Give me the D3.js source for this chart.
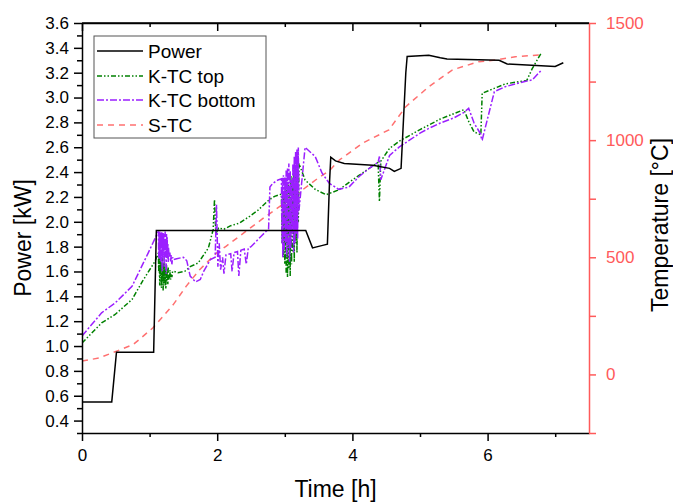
<!DOCTYPE html>
<html><head><meta charset="utf-8">
<script src="https://cdn.jsdelivr.net/npm/d3@7"></script>
<style>body{margin:0;background:#fff}svg{font-family:"Liberation Sans",Arial,sans-serif}</style>
</head><body><svg id="c" width="673" height="502"></svg>
<script>
// ---- data ----
const seriesNames = ["Power", "K-TC top", "K-TC bottom", "S-TC"];
const xTicks = [0, 2, 4, 6];
const xMinor = [1, 3, 5, 7];
const leftTicks = [0.4,0.6,0.8,1.0,1.2,1.4,1.6,1.8,2.0,2.2,2.4,2.6,2.8,3.0,3.2,3.4,3.6];
const leftMinor = [0.3,0.5,0.7,0.9,1.1,1.3,1.5,1.7,1.9,2.1,2.3,2.5,2.7,2.9,3.1,3.3,3.5];
const rightTicks = [0, 500, 1000, 1500];
const rightMinor = [-250, 250, 750, 1250];
// Power [kW] vs time [h]
const powerT = [0,0.44,0.51,1.06,1.1,3.31,3.41,3.56,3.63,3.66,3.68,3.75,3.88,4.3,4.55,4.62,4.72,4.79,4.81,5.13,5.3,5.4,6.17,6.29,7.0,7.12];
const powerV = [0.55,0.55,0.95,0.95,1.93,1.93,1.79,1.81,1.82,2.3,2.52,2.49,2.47,2.455,2.43,2.405,2.43,3.2,3.33,3.34,3.32,3.31,3.3,3.27,3.25,3.28];
// K-TC top [°C]
const topT = [0,0.29,0.49,0.74,0.9,1.08,1.13,1.135,1.14,1.15,1.155,1.16,1.17,1.175,1.18,1.19,1.195,1.2,1.21,1.215,1.22,1.23,1.235,1.24,1.25,1.255,1.26,1.27,1.275,1.28,1.29,1.295,1.3,1.31,1.32,1.33,1.34,1.36,1.42,1.52,1.6,1.72,1.87,1.94,1.96,1.98,2.02,2.1,2.2,2.33,2.48,2.6,2.77,2.85,2.95,2.96,2.97,2.98,2.99,3.0,3.01,3.02,3.03,3.04,3.05,3.06,3.07,3.08,3.09,3.1,3.11,3.12,3.13,3.14,3.15,3.16,3.17,3.18,3.19,3.2,3.21,3.3,3.45,3.61,3.8,4.0,4.2,4.38,4.4,4.42,4.55,4.69,5.0,5.3,5.65,5.72,5.8,5.9,5.92,6.26,6.58,6.66,6.8];
const topV = [134,220,256,320,400,483,518,440,510,380,500,420,490,370,470,400,510,358,460,390,480,380,450,365,470,400,440,385,460,400,430,410,445,405,430,415,440,440,434,440,460,476,540,618,746,600,625,620,635,646,675,700,746,760,770,560,780,500,760,470,800,430,790,415,820,450,780,420,850,470,820,520,860,480,880,560,860,520,874,650,900,830,790,767,788,830,870,905,738,910,965,995,1045,1090,1130,1080,1035,1023,1200,1240,1255,1305,1375];
// K-TC bottom [°C]
const botT = [0,0.29,0.49,0.74,0.98,1.13,1.135,1.14,1.145,1.15,1.155,1.16,1.165,1.17,1.175,1.18,1.185,1.19,1.195,1.2,1.205,1.21,1.215,1.22,1.225,1.23,1.235,1.24,1.245,1.25,1.255,1.26,1.265,1.27,1.275,1.28,1.29,1.3,1.31,1.32,1.33,1.34,1.35,1.4,1.5,1.55,1.6,1.68,1.75,1.8,1.9,1.97,1.99,2.01,2.03,2.05,2.08,2.1,2.13,2.2,2.22,2.25,2.3,2.32,2.35,2.4,2.43,2.46,2.5,2.55,2.6,2.65,2.72,2.76,2.78,2.82,2.9,2.95,2.96,2.965,2.97,2.98,2.99,3.0,3.01,3.02,3.03,3.04,3.05,3.06,3.07,3.08,3.09,3.1,3.11,3.12,3.13,3.14,3.15,3.16,3.17,3.18,3.19,3.2,3.21,3.3,3.45,3.55,3.66,3.8,3.95,4.1,4.25,4.38,4.4,4.42,4.55,4.69,4.85,5.0,5.13,5.3,5.5,5.65,5.72,5.8,5.9,5.91,5.92,6.1,6.26,6.45,6.58,6.66,6.8];
const botV = [164,263,305,376,519,611,500,600,490,610,520,590,480,605,540,610,440,580,500,605,530,600,460,575,500,610,520,560,430,600,510,585,495,560,480,540,500,520,480,510,470,500,490,494,500,485,420,395,405,440,490,500,724,460,560,447,500,430,510,515,440,520,525,420,530,535,470,540,545,560,575,590,610,620,800,815,830,835,560,840,500,850,520,840,560,870,500,880,540,900,480,870,540,830,600,900,520,930,560,950,600,960,580,969,700,969,930,860,815,790,800,845,880,905,930,831,935,970,1001,1030,1050,1073,1095,1118,1136,1073,1025,1001,1001,1207,1228,1243,1252,1257,1300,1371];
// S-TC [°C]
const sT = [0,0.25,0.51,0.76,1.05,1.35,1.54,1.74,1.99,2.13,2.72,3.07,3.46,3.66,3.81,4.15,4.54,4.79,5.13,5.48,5.87,6.12,6.41,6.8];
const sV = [57,70,99,128,199,298,376,447,518,547,675,746,831,870,916,987,1044,1143,1228,1300,1335,1342,1356,1364];

// ---- layout ----
const svg = d3.select("#c");
const L = 82, R = 589, T = 23, B = 433;
const x = d3.scaleLinear().domain([0, 7.5]).range([L, R]);
const yL = d3.scaleLinear().domain([0.3, 3.6]).range([B, T]);
const yR = d3.scaleLinear().domain([-250, 1500]).range([B, T]);
const red = "#ff5a5a";

svg.append("defs").append("clipPath").attr("id","clip")
  .append("rect").attr("x",L).attr("y",T).attr("width",R-L).attr("height",B-T);

const g = svg.append("g").attr("clip-path","url(#clip)");
const zip = (a,b)=>a.map((v,i)=>[v,b[i]]);
const lineL = d3.line().x(d=>x(d[0])).y(d=>yL(d[1]));
const lineR = d3.line().x(d=>x(d[0])).y(d=>yR(d[1]));

const styles = [
  {color:"#000000", dash:null},
  {color:"#008000", dash:"5,2,1.5,2,1.5,2"},
  {color:"#9b1fff", dash:"7,2,2,2"},
  {color:"#ff7070", dash:"6,5"}
];

g.append("path").datum(zip(sT,sV)).attr("d",lineR).attr("fill","none")
  .attr("stroke",styles[3].color).attr("stroke-width",1.5).attr("stroke-dasharray",styles[3].dash);
g.append("path").datum(zip(topT,topV)).attr("d",lineR).attr("fill","none")
  .attr("stroke",styles[1].color).attr("stroke-width",1.5).attr("stroke-dasharray",styles[1].dash);
g.append("path").datum(zip(botT,botV)).attr("d",lineR).attr("fill","none")
  .attr("stroke",styles[2].color).attr("stroke-width",1.5).attr("stroke-dasharray",styles[2].dash);
g.append("path").datum(zip(powerT,powerV)).attr("d",lineL).attr("fill","none")
  .attr("stroke","#000").attr("stroke-width",1.5);

// ---- axes ----
function styleAxis(sel, color, fs){
  sel.select(".domain").attr("stroke",color).attr("stroke-width",1.5);
  sel.selectAll(".tick line").attr("stroke",color).attr("stroke-width",1.5);
  sel.selectAll(".tick text").attr("fill",color).style("font-size",fs+"px");
}
function minorTicks(sel, color){
  sel.select(".domain").remove();
  sel.selectAll("line").attr("stroke",color).attr("stroke-width",1.5);
}
// bottom
const xb = svg.append("g").attr("transform",`translate(0,${B})`)
  .call(d3.axisBottom(x).tickValues(xTicks).tickSize(8).tickPadding(8).tickFormat(d3.format("d")).tickSizeOuter(0));
styleAxis(xb,"#000",17);
svg.append("g").attr("transform",`translate(0,${B})`)
  .call(d3.axisBottom(x).tickValues(xMinor).tickSize(4).tickFormat("").tickSizeOuter(0))
  .call(s=>minorTicks(s,"#000"));
// top (inward ticks)
const xt = svg.append("g").attr("transform",`translate(0,${T})`)
  .call(d3.axisBottom(x).tickValues(xTicks).tickSize(8).tickFormat("").tickSizeOuter(0));
styleAxis(xt,"#000",17);
svg.append("g").attr("transform",`translate(0,${T})`)
  .call(d3.axisBottom(x).tickValues(xMinor).tickSize(4).tickFormat("").tickSizeOuter(0))
  .call(s=>minorTicks(s,"#000"));
// left
const yl = svg.append("g").attr("transform",`translate(${L},0)`)
  .call(d3.axisLeft(yL).tickValues(leftTicks).tickSize(8).tickPadding(5).tickFormat(d3.format(".1f")).tickSizeOuter(0));
styleAxis(yl,"#000",17);
svg.append("g").attr("transform",`translate(${L},0)`)
  .call(d3.axisLeft(yL).tickValues(leftMinor).tickSize(5).tickFormat("").tickSizeOuter(0))
  .call(s=>minorTicks(s,"#000"));
// right
const yr = svg.append("g").attr("transform",`translate(${R},0)`)
  .call(d3.axisRight(yR).tickValues(rightTicks).tickSize(7).tickPadding(10).tickFormat(d3.format("d")).tickSizeOuter(0));
styleAxis(yr,red,17);
svg.append("g").attr("transform",`translate(${R},0)`)
  .call(d3.axisRight(yR).tickValues(rightMinor).tickSize(7).tickFormat("").tickSizeOuter(0))
  .call(s=>minorTicks(s,red));
svg.append("line").attr("x1",L).attr("x2",R).attr("y1",T).attr("y2",T).attr("stroke","#000").attr("stroke-width",1.5);

// ---- titles ----
svg.append("text").attr("x",(L+R)/2).attr("y",497).attr("text-anchor","middle")
  .style("font-size","23px").text("Time [h]");
svg.append("text").attr("transform","translate(31,238) rotate(-90)").attr("text-anchor","middle")
  .style("font-size","23px").text("Power [kW]");
svg.append("text").attr("transform","translate(668,225) rotate(-90)").attr("text-anchor","middle")
  .style("font-size","23px").text("Temperature [°C]");

// ---- legend ----
const lg = svg.append("g");
lg.append("rect").attr("x",94).attr("y",36).attr("width",172).attr("height",102)
  .attr("fill","#fff").attr("stroke","#555").attr("stroke-width",1);
const ly = [51, 76, 100, 125];
seriesNames.forEach((n,i)=>{
  lg.append("line").attr("x1",97).attr("x2",143).attr("y1",ly[i]).attr("y2",ly[i])
    .attr("stroke",styles[i].color).attr("stroke-width",1.5).attr("stroke-dasharray",styles[i].dash);
  lg.append("text").attr("x",148).attr("y",ly[i]+7).style("font-size","19px").text(n);
});
</script></body></html>
